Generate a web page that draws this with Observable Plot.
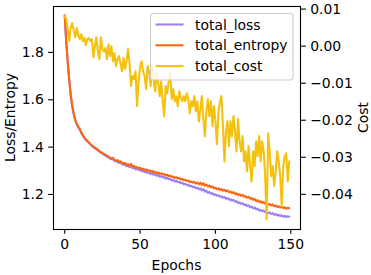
<!DOCTYPE html>
<html>
<head>
<meta charset="utf-8">
<script src="https://cdn.jsdelivr.net/npm/d3@7"></script>
<script src="https://cdn.jsdelivr.net/npm/@observablehq/plot@0.6"></script>
<style>
  html, body { margin: 0; padding: 0; background: white; }
  svg { display: block; }
</style>
</head>
<body>
<div id="chart"></div>
<script>
const seriesNames = ["total_loss", "total_entropy", "total_cost"];
const seriesColors = ["#9d7ff2", "#ff6410", "#f4c20d"];

const totalLoss = [
1.955,1.843,1.758,1.682,1.619,1.573,1.538,1.513,1.496,1.483,
1.474,1.461,1.448,1.440,1.431,1.424,1.418,1.412,1.405,1.400,
1.395,1.390,1.386,1.381,1.376,1.373,1.368,1.365,1.359,1.357,
1.352,1.349,1.350,1.342,1.339,1.340,1.333,1.335,1.328,1.326,
1.327,1.319,1.322,1.315,1.320,1.311,1.313,1.307,1.309,1.303,
1.305,1.298,1.301,1.294,1.297,1.291,1.293,1.286,1.290,1.283,
1.285,1.279,1.282,1.275,1.277,1.272,1.274,1.267,1.270,1.264,
1.266,1.259,1.262,1.255,1.258,1.252,1.254,1.247,1.250,1.243,
1.245,1.239,1.241,1.234,1.237,1.231,1.233,1.226,1.229,1.222,
1.226,1.217,1.223,1.212,1.216,1.207,1.211,1.203,1.206,1.198,
1.201,1.194,1.197,1.190,1.193,1.186,1.189,1.182,1.185,1.178,
1.180,1.174,1.177,1.169,1.172,1.163,1.167,1.160,1.163,1.155,
1.158,1.151,1.154,1.146,1.149,1.141,1.145,1.137,1.140,1.132,
1.135,1.129,1.132,1.125,1.127,1.121,1.124,1.118,1.121,1.114,
1.117,1.111,1.114,1.109,1.112,1.106,1.110,1.104,1.108,1.106
];

const totalEntropy = [
1.957,1.845,1.760,1.684,1.620,1.574,1.540,1.515,1.498,1.485,
1.476,1.462,1.450,1.441,1.433,1.426,1.421,1.413,1.408,1.402,
1.398,1.392,1.390,1.383,1.379,1.376,1.371,1.369,1.362,1.360,
1.356,1.352,1.355,1.346,1.343,1.345,1.338,1.340,1.334,1.331,
1.333,1.325,1.328,1.321,1.329,1.318,1.320,1.314,1.316,1.311,
1.313,1.306,1.309,1.303,1.306,1.300,1.302,1.296,1.300,1.293,
1.296,1.290,1.293,1.287,1.289,1.284,1.287,1.280,1.283,1.277,
1.280,1.274,1.276,1.270,1.273,1.268,1.270,1.263,1.266,1.260,
1.262,1.257,1.259,1.252,1.255,1.250,1.253,1.246,1.250,1.243,
1.250,1.240,1.248,1.237,1.242,1.233,1.238,1.230,1.234,1.226,
1.229,1.222,1.226,1.219,1.223,1.216,1.220,1.213,1.217,1.210,
1.212,1.206,1.210,1.202,1.205,1.197,1.201,1.194,1.198,1.190,
1.193,1.186,1.190,1.182,1.185,1.177,1.181,1.172,1.176,1.168,
1.171,1.165,1.168,1.161,1.163,1.157,1.160,1.154,1.158,1.150,
1.153,1.147,1.150,1.145,1.148,1.143,1.146,1.140,1.144,1.142
];

const totalCost = [
0.0081,0.0073,0.0046,0.0014,0.0051,0.0062,0.0041,0.0024,0.0049,0.0030,
0.0019,0.0032,0.0014,0.0022,0.0003,0.0019,0.0022,0.0014,0.0019,-0.0030,
0.0000,0.0024,-0.0014,-0.0035,0.0024,-0.0008,-0.0014,-0.0005,-0.0035,0.0005,
-0.0027,0.0000,-0.0041,-0.0019,-0.0054,-0.0035,-0.0027,-0.0046,-0.0068,-0.0032,
-0.0062,-0.0041,-0.0008,-0.0046,-0.0108,-0.0081,-0.0089,-0.0068,-0.0162,-0.0095,
-0.0057,-0.0041,-0.0068,-0.0081,-0.0116,-0.0054,-0.0068,-0.0108,-0.0051,-0.0089,
-0.0122,-0.0073,-0.0100,-0.0135,-0.0095,-0.0149,-0.0189,-0.0108,-0.0127,-0.0095,
-0.0073,-0.0143,-0.0116,-0.0149,-0.0135,-0.0162,-0.0122,-0.0138,-0.0149,-0.0135,
-0.0149,-0.0127,-0.0143,-0.0181,-0.0149,-0.0162,-0.0135,-0.0176,-0.0149,-0.0203,
-0.0170,-0.0135,-0.0197,-0.0243,-0.0176,-0.0143,-0.0189,-0.0149,-0.0216,-0.0162,
-0.0203,-0.0265,-0.0176,-0.0149,-0.0135,-0.0216,-0.0311,-0.0230,-0.0203,-0.0270,
-0.0203,-0.0243,-0.0189,-0.0230,-0.0284,-0.0197,-0.0257,-0.0284,-0.0243,-0.0311,
-0.0284,-0.0338,-0.0270,-0.0324,-0.0365,-0.0284,-0.0324,-0.0257,-0.0297,-0.0243,
-0.0311,-0.0257,-0.0284,-0.0351,-0.0468,-0.0235,-0.0284,-0.0351,-0.0324,-0.0378,
-0.0338,-0.0284,-0.0311,-0.0351,-0.0432,-0.0324,-0.0297,-0.0289,-0.0365,-0.0311
];

const xTicks = [0, 50, 100, 150];
const yTicks = [1.2, 1.4, 1.6, 1.8];
const costTicks = [-0.04, -0.03, -0.02, -0.01, 0.00, 0.01];

const W = 371, H = 275;
const mL = 53, mR = 71, mT = 6, mB = 46;
const xDom = [-7.45, 156.45];
const yDom = [1.052, 1.994];
const cDom = [-0.0495, 0.0107];
const toL = c => yDom[0] + (c - cDom[0]) * (yDom[1] - yDom[0]) / (cDom[1] - cDom[0]);
const fromL = L => cDom[0] + (L - yDom[0]) * (cDom[1] - cDom[0]) / (yDom[1] - yDom[0]);
const fmtCost = v => {
  let r = Math.round(fromL(v) * 100) / 100;
  if (Object.is(r, -0) || Math.abs(r) < 1e-9) r = 0;
  return r.toFixed(2).replace("-", "\u2212");
};

const idx = d3.range(totalLoss.length);
const fs = 13.9, lw = 2.08, tick = 4.86;

const chart = Plot.plot({
  width: W, height: H,
  marginLeft: mL, marginRight: mR, marginTop: mT, marginBottom: mB,
  x: {domain: xDom},
  y: {domain: yDom},
  style: {fontFamily: "DejaVu Sans", fontSize: fs + "px", background: "white", color: "black", overflow: "visible"},
  marks: [
    Plot.line(idx, {x: i => i, y: i => totalLoss[i], stroke: seriesColors[0], strokeWidth: lw}),
    Plot.line(idx, {x: i => i, y: i => totalEntropy[i], stroke: seriesColors[1], strokeWidth: lw}),
    Plot.line(idx, {x: i => i, y: i => toL(totalCost[i]), stroke: seriesColors[2], strokeWidth: lw}),
    Plot.frame({stroke: "black", strokeWidth: 1.1}),
    Plot.axisX(xTicks, {tickSize: tick, tickPadding: tick, label: null, tickFormat: d => String(d), strokeWidth: 1.1}),
    Plot.axisY(yTicks, {anchor: "left", tickSize: tick, tickPadding: tick, label: null, tickFormat: d => d.toFixed(1), strokeWidth: 1.1}),
    Plot.axisY(costTicks.map(toL), {anchor: "right", tickSize: tick, tickPadding: tick, label: null, tickFormat: fmtCost, strokeWidth: 1.1})
  ]
});

const svg = d3.select(chart);
const cx = mL + (W - mL - mR) / 2;
const cy = mT + (H - mT - mB) / 2;
svg.append("text").attr("x", cx).attr("y", 265).attr("text-anchor", "middle")
  .attr("dominant-baseline", "central").attr("font-size", fs).attr("fill", "black").text("Epochs");
svg.append("text").attr("transform", `translate(9.5,${cy}) rotate(-90)`).attr("text-anchor", "middle")
  .attr("dominant-baseline", "central").attr("font-size", fs).attr("fill", "black").text("Loss/Entropy");
svg.append("text").attr("transform", `translate(363,${cy}) rotate(-90)`).attr("text-anchor", "middle")
  .attr("dominant-baseline", "central").attr("font-size", fs).attr("fill", "black").text("Cost");

// legend
const lg = svg.append("g");
lg.append("rect").attr("x", 150.5).attr("y", 13.5).attr("width", 142.5).attr("height", 66.5)
  .attr("rx", 2.8)
  .style("fill", "white").style("fill-opacity", 0.8)
  .style("stroke", "#cccccc").style("stroke-width", "1.1px");
seriesNames.forEach((name, k) => {
  const yy = 24.5 + k * 20.8;
  lg.append("line").attr("x1", 155.5).attr("x2", 183.5).attr("y1", yy).attr("y2", yy)
    .style("stroke", seriesColors[k]).style("stroke-width", lw + "px");
  lg.append("text").attr("x", 195).attr("y", yy).attr("dominant-baseline", "central")
    .attr("text-anchor", "start").attr("font-size", fs).attr("fill", "black").text(name);
});

document.getElementById("chart").appendChild(chart);
</script>
</body>
</html>
